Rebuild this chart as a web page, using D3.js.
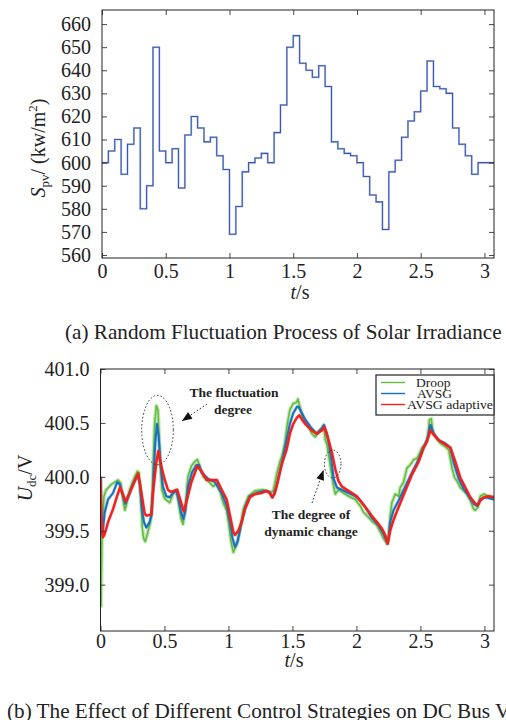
<!DOCTYPE html>
<html><head><meta charset="utf-8">
<script src="https://cdn.jsdelivr.net/npm/d3@7"></script>
<style>
html,body{margin:0;padding:0;background:#fff;}
svg, svg text{font-family:"Liberation Serif","Times New Roman",serif;}
svg{display:block;}
</style></head><body>
<svg id="fig" width="506" height="720"></svg>
<script>
// ---- (a) irradiance, piecewise constant every 0.05 s ----
const stepTimes = [0,0.05,0.1,0.15,0.2,0.25,0.3,0.35,0.4,0.45,0.5,0.55,0.6,0.65,0.7,0.75,0.8,0.85,0.9,0.95,
  1,1.05,1.1,1.15,1.2,1.25,1.3,1.35,1.4,1.45,1.5,1.55,1.6,1.65,1.7,1.75,1.8,1.85,1.9,1.95,
  2,2.05,2.1,2.15,2.2,2.25,2.3,2.35,2.4,2.45,2.5,2.55,2.6,2.65,2.7,2.75,2.8,2.85,2.9,2.95];
const irradiance = [600,605,610,595,608,615,580,590,650,605,600,606,589,612,620,615,609,611,603,597,
  569,581,596,600,602,604,600,613,625,650,655,643,640,637,642,633,609,606,604,603,
  600,594,586,583,571,596,601,611,618,622,631,644,633,632,630,615,608,603,595,600];
const timeEnd = 3.075;
const timeTicks = [0,0.5,1,1.5,2,2.5,3];
const irrTicks = [560,570,580,590,600,610,620,630,640,650,660];

// ---- (b) DC bus voltage, [t (s), U (V)] ----
const droop = [[0,400.0],[0.004,398.8],[0.012,399.5],[0.027,399.82],[0.045,399.88],[0.085,399.93],[0.124,399.96],
  [0.137,399.97],[0.158,399.94],[0.176,399.79],[0.19,399.69],[0.2,399.73],[0.228,399.88],[0.267,400.0],[0.288,400.05],
  [0.3,400.04],[0.314,399.82],[0.327,399.52],[0.337,399.43],[0.35,399.4],[0.366,399.47],[0.384,399.55],[0.402,399.67],
  [0.41,400.07],[0.423,400.49],[0.436,400.66],[0.449,400.62],[0.462,400.25],[0.48,399.88],[0.5,399.8],[0.52,399.78],
  [0.54,399.76],[0.566,399.84],[0.592,399.88],[0.61,399.76],[0.63,399.61],[0.645,399.56],[0.663,399.7],[0.683,400.0],
  [0.71,400.1],[0.736,400.14],[0.757,400.16],[0.78,400.08],[0.803,400.0],[0.842,399.96],[0.88,399.91],[0.907,399.94],
  [0.933,399.87],[0.959,399.76],[0.985,399.69],[1.0,399.58],[1.02,399.4],[1.038,399.3],[1.064,399.37],[1.09,399.52],
  [1.116,399.7],[1.155,399.82],[1.207,399.87],[1.27,399.88],[1.322,399.85],[1.35,399.87],[1.38,400.04],[1.4,400.13],
  [1.42,400.2],[1.44,400.31],[1.46,400.49],[1.48,400.62],[1.506,400.68],[1.532,400.69],[1.543,400.72],[1.574,400.57],
  [1.613,400.49],[1.652,400.4],[1.678,400.37],[1.704,400.42],[1.73,400.45],[1.744,400.48],[1.757,400.34],[1.77,400.3],
  [1.796,400.1],[1.822,399.91],[1.835,399.84],[1.86,399.88],[1.9,399.85],[1.94,399.82],[1.99,399.79],[2.03,399.73],
  [2.056,399.67],[2.09,399.63],[2.12,399.59],[2.16,399.55],[2.186,399.49],[2.212,399.43],[2.238,399.38],[2.25,399.42],
  [2.264,399.64],[2.277,399.76],[2.303,399.84],[2.33,399.82],[2.342,399.9],[2.368,399.95],[2.394,400.08],[2.42,400.11],
  [2.447,400.16],[2.473,400.17],[2.486,400.2],[2.512,400.27],[2.538,400.3],[2.56,400.39],[2.57,400.53],[2.585,400.54],
  [2.595,400.43],[2.617,400.37],[2.656,400.31],[2.695,400.28],[2.721,400.25],[2.747,400.08],[2.768,399.99],[2.786,399.96],
  [2.812,399.9],[2.838,399.87],[2.864,399.84],[2.89,399.78],[2.916,399.7],[2.929,399.69],[2.95,399.72],[2.968,399.82],
  [2.994,399.84],[3.033,399.82],[3.075,399.81]];
const avsg = [[0,400.0],[0.006,399.6],[0.012,399.47],[0.02,399.52],[0.033,399.67],[0.059,399.79],[0.098,399.85],
  [0.131,399.95],[0.15,399.93],[0.176,399.82],[0.194,399.75],[0.215,399.81],[0.254,399.93],[0.288,400.01],[0.306,399.95],
  [0.324,399.7],[0.34,399.58],[0.358,399.53],[0.384,399.58],[0.397,399.64],[0.413,399.95],[0.428,400.31],[0.441,400.49],
  [0.455,400.37],[0.47,400.1],[0.488,399.91],[0.514,399.82],[0.54,399.81],[0.566,399.85],[0.592,399.87],[0.61,399.79],
  [0.63,399.67],[0.647,399.61],[0.662,399.68],[0.684,399.91],[0.715,400.04],[0.749,400.11],[0.77,400.11],[0.79,400.04],
  [0.842,399.98],[0.894,399.95],[0.947,399.85],[0.986,399.73],[1.012,399.58],[1.032,399.43],[1.051,399.35],[1.072,399.4],
  [1.103,399.58],[1.134,399.73],[1.168,399.82],[1.22,399.85],[1.285,399.87],[1.32,399.86],[1.345,399.81],[1.376,399.91],
  [1.402,400.05],[1.428,400.19],[1.454,400.34],[1.48,400.49],[1.506,400.59],[1.535,400.65],[1.548,400.65],[1.6,400.53],
  [1.65,400.45],[1.69,400.4],[1.73,400.45],[1.746,400.48],[1.77,400.4],[1.788,400.28],[1.804,400.16],[1.822,399.98],
  [1.848,399.9],[1.887,399.88],[1.94,399.85],[1.99,399.82],[2.03,399.78],[2.069,399.72],[2.12,399.62],[2.173,399.55],
  [2.212,399.47],[2.238,399.4],[2.246,399.38],[2.264,399.58],[2.29,399.69],[2.33,399.78],[2.382,399.91],[2.434,400.04],
  [2.486,400.16],[2.526,400.28],[2.552,400.34],[2.578,400.48],[2.604,400.4],[2.643,400.34],[2.695,400.31],[2.734,400.27],
  [2.76,400.13],[2.8,399.98],[2.838,399.89],[2.877,399.82],[2.916,399.75],[2.942,399.73],[2.968,399.79],[3.007,399.81],
  [3.075,399.79]];
const avsgAdaptive = [[0,400.0],[0.008,399.6],[0.02,399.44],[0.033,399.47],[0.059,399.58],[0.098,399.7],[0.124,399.8],
  [0.152,399.9],[0.175,399.84],[0.197,399.77],[0.228,399.85],[0.267,399.96],[0.295,400.03],[0.32,399.85],[0.345,399.66],
  [0.36,399.64],[0.397,399.65],[0.41,399.85],[0.436,400.13],[0.452,400.24],[0.475,400.1],[0.5,399.98],[0.527,399.88],
  [0.548,399.86],[0.574,399.87],[0.6,399.88],[0.63,399.76],[0.65,399.68],[0.67,399.76],[0.71,399.95],[0.757,400.1],
  [0.79,400.05],[0.83,399.97],[0.91,399.97],[0.947,399.88],[0.986,399.79],[1.012,399.64],[1.038,399.49],[1.051,399.46],
  [1.077,399.5],[1.103,399.58],[1.129,399.7],[1.168,399.81],[1.207,399.84],[1.26,399.85],[1.3,399.87],[1.316,399.86],
  [1.342,399.81],[1.363,399.85],[1.389,399.98],[1.42,400.13],[1.454,400.25],[1.48,400.4],[1.506,400.49],[1.535,400.55],
  [1.553,400.57],[1.6,400.49],[1.65,400.43],[1.69,400.4],[1.73,400.43],[1.75,400.46],[1.782,400.34],[1.809,400.22],
  [1.835,400.07],[1.86,399.96],[1.887,399.91],[1.925,399.88],[1.964,399.85],[2.003,399.82],[2.043,399.76],[2.082,399.7],
  [2.12,399.64],[2.16,399.58],[2.199,399.52],[2.225,399.46],[2.243,399.38],[2.264,399.5],[2.29,399.6],[2.33,399.72],
  [2.382,399.87],[2.434,400.02],[2.486,400.14],[2.526,400.27],[2.552,400.33],[2.578,400.43],[2.604,400.39],[2.643,400.34],
  [2.695,400.3],[2.734,400.27],[2.773,400.14],[2.812,399.99],[2.851,399.9],[2.89,399.81],[2.93,399.75],[2.95,399.74],
  [2.968,399.78],[2.994,399.81],[3.033,399.82],[3.075,399.81]];
const voltTicks = [399.0,399.5,400.0,400.5,401.0];
const seriesNames = ["Droop","AVSG","AVSG adaptive"];
const seriesColors = ["#62bd3c","#1a6fc2","#f5201c"];

const SERIF = '"Liberation Serif","Times New Roman",serif';
const svg = d3.select("#fig");
svg.append("rect").attr("width",506).attr("height",720).attr("fill","#fff");

const fmtTime = d => d3.format("~g")(d);

// Boxed axes with inward ticks on all four sides
function boxAxes(x, y, xTicks, yTicks, fmtY, xPad) {
  const [x0, x1] = x.range(), [y0, y1] = y.range();
  const g = svg.append("g");
  const style = sel => {
    sel.attr("font-family", null).attr("font-size", null);
    sel.select(".domain").remove();
    sel.selectAll(".tick line").attr("stroke","#333").attr("stroke-width",0.9);
    sel.selectAll("text").attr("fill","#222")
       .style("font-family", SERIF).style("font-size","20px");
  };
  g.append("g").attr("transform",`translate(0,${y0})`)
    .call(d3.axisBottom(x).tickValues(xTicks).tickFormat(fmtTime).tickSize(-5).tickPadding(xPad)).call(style);
  g.append("g").attr("transform",`translate(0,${y1})`)
    .call(d3.axisTop(x).tickValues(xTicks).tickFormat("").tickSize(-5)).call(style);
  g.append("g").attr("transform",`translate(${x0},0)`)
    .call(d3.axisLeft(y).tickValues(yTicks).tickFormat(fmtY).tickSize(-5).tickPadding(11)).call(style);
  g.append("g").attr("transform",`translate(${x1},0)`)
    .call(d3.axisRight(y).tickValues(yTicks).tickFormat("").tickSize(-5)).call(style);
  g.append("rect").attr("x",x0).attr("y",y1).attr("width",x1-x0).attr("height",y0-y1)
    .attr("fill","none").attr("stroke","#222").attr("stroke-width",1);
  return g;
}

// ---------- panel (a) ----------
const xA = d3.scaleLinear().domain([0,timeEnd]).range([102,494]);
const yA = d3.scaleLinear().domain([558.7,666.1]).range([258,10]);
const stepData = stepTimes.map((t,i)=>[t,irradiance[i]]);
stepData.push([timeEnd, irradiance[irradiance.length-1]]);
const stepLine = d3.line().x(d=>xA(d[0])).y(d=>yA(d[1])).curve(d3.curveStepAfter);
svg.append("path").datum(stepData)
  .attr("fill","none").attr("stroke","#b3c3e8").attr("stroke-width",2.0).attr("d",stepLine);
svg.append("path").datum(stepData)
  .attr("fill","none").attr("stroke","#3a56ad").attr("stroke-width",1.05).attr("d",stepLine);
boxAxes(xA, yA, timeTicks, irrTicks, d3.format("d"), 6);

const labA = svg.append("text").attr("transform","translate(45,148) rotate(-90)")
  .attr("text-anchor","middle").style("font-size","20px").attr("fill","#222");
labA.append("tspan").attr("font-style","italic").text("S");
labA.append("tspan").style("font-size","13px").attr("dy",4).text("pv");
labA.append("tspan").attr("dy",-4).text("/ (kw/m");
labA.append("tspan").style("font-size","13px").attr("dy",-8).text("2");
labA.append("tspan").attr("dy",8).text(")");

const tA = svg.append("text").attr("x",300).attr("y",299).attr("text-anchor","middle")
  .style("font-size","20px").attr("fill","#222");
tA.append("tspan").attr("font-style","italic").text("t");
tA.append("tspan").text("/s");

svg.append("text").attr("x",65).attr("y",339).style("font-size","21.2px").attr("fill","#222")
  .text("(a) Random Fluctuation Process of Solar Irradiance");

// ---------- panel (b) ----------
const xB = d3.scaleLinear().domain([0,timeEnd]).range([100.5,494]);
const yB = d3.scaleLinear().domain([398.57,401.0]).range([631,369]);
svg.append("clipPath").attr("id","clipB").append("rect")
  .attr("x",100.5).attr("y",369).attr("width",393.5).attr("height",262);
const lineB = d3.line().x(d=>xB(d[0])).y(d=>yB(d[1]));
const plotB = svg.append("g").attr("clip-path","url(#clipB)");
// soft halo under each trace, then the trace itself
[[droop,0,4.0,0.35,1.6],[avsg,1,3.4,0.3,2.0],[avsgAdaptive,2,3.2,0.25,2.4]].forEach(([data,i,hw,ho,w])=>{
  plotB.append("path").datum(data).attr("fill","none").attr("stroke",seriesColors[i])
    .attr("stroke-width",hw).attr("stroke-opacity",ho).attr("stroke-linejoin","round").attr("d",lineB);
  plotB.append("path").datum(data).attr("fill","none").attr("stroke",seriesColors[i])
    .attr("stroke-width",w).attr("stroke-linejoin","round").attr("d",lineB);
});
boxAxes(xB, yB, timeTicks, voltTicks, d3.format(".1f"), 3);

const labB = svg.append("text").attr("transform","translate(32,478) rotate(-90)")
  .attr("text-anchor","middle").style("font-size","20px").attr("fill","#222");
labB.append("tspan").attr("font-style","italic").text("U");
labB.append("tspan").style("font-size","13px").attr("dy",4).text("dc");
labB.append("tspan").attr("dy",-4).text("/V");

const tB = svg.append("text").attr("x",294).attr("y",667).attr("text-anchor","middle")
  .style("font-size","20px").attr("fill","#222");
tB.append("tspan").attr("font-style","italic").text("t");
tB.append("tspan").text("/s");

svg.append("text").attr("x",7).attr("y",718).style("font-size","21.2px").attr("fill","#222")
  .text("(b) The Effect of Different Control Strategies on DC Bus Voltage");

// legend
const leg = svg.append("g");
leg.append("rect").attr("x",376).attr("y",375).attr("width",118).attr("height",40)
  .attr("fill","#fff").attr("stroke","#333").attr("stroke-width",1.3);
const legX = [416,417,407];
seriesNames.forEach((n,i)=>{
  const yy = 382.5 + i*11;
  leg.append("line").attr("x1",381).attr("x2",405).attr("y1",yy).attr("y2",yy)
    .attr("stroke",seriesColors[i]).attr("stroke-width",1.4);
  const t = leg.append("text").attr("x",legX[i]).attr("y",yy+4.5).style("font-size","13.5px")
    .attr("fill","#222").text(n);
  if (i===2) t.attr("textLength",86).attr("lengthAdjust","spacingAndGlyphs");
});

// annotations
const ann = svg.append("g").attr("fill","#222").attr("font-weight","bold").style("font-size","13.5px")
  .attr("text-anchor","middle");
ann.append("text").attr("x",234).attr("y",397).text("The fluctuation");
ann.append("text").attr("x",233).attr("y",414).text("degree");
ann.append("text").attr("x",311).attr("y",519).text("The degree of");
ann.append("text").attr("x",311).attr("y",536).text("dynamic change");

const dotted = {stroke:"#333","stroke-width":1,"stroke-dasharray":"1.6,2",fill:"none"};
function applyAttrs(sel,o){Object.entries(o).forEach(([k,v])=>sel.attr(k,v));return sel;}
applyAttrs(svg.append("ellipse").attr("cx",157.5).attr("cy",430).attr("rx",15.8).attr("ry",34.7),dotted);
applyAttrs(svg.append("ellipse").attr("cx",332.7).attr("cy",464).attr("rx",8.3).attr("ry",14),dotted);

function arrow(x1,y1,x2,y2){
  applyAttrs(svg.append("line").attr("x1",x1).attr("y1",y1).attr("x2",x2).attr("y2",y2),dotted);
  const a = Math.atan2(y2-y1,x2-x1), L=10, W=4;
  const bx = x2 - L*Math.cos(a), by = y2 - L*Math.sin(a);
  const px = -Math.sin(a)*W, py = Math.cos(a)*W;
  svg.append("path").attr("d",`M${x2},${y2}L${bx+px},${by+py}L${bx-px},${by-py}Z`).attr("fill","#111");
}
arrow(207,404,182,421);
arrow(312,503,323.5,470);
</script></body></html>
